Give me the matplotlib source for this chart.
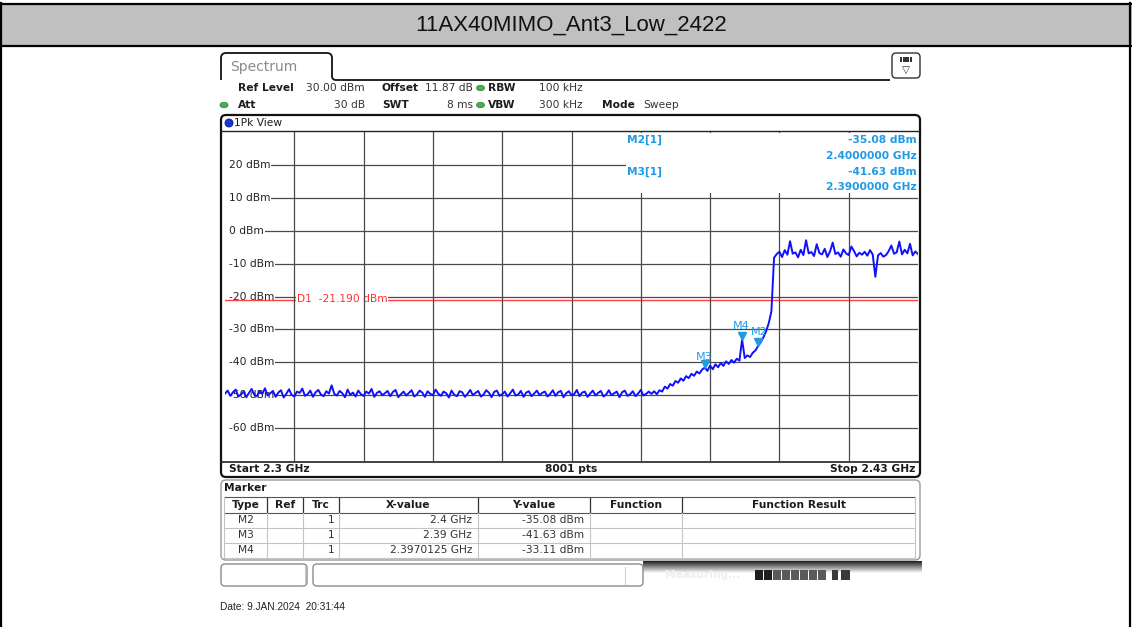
import numpy as np
import matplotlib
matplotlib.use("Agg")
import matplotlib.pyplot as plt
from matplotlib.patches import FancyBboxPatch, Rectangle, Ellipse, Circle, PathPatch
from matplotlib.path import Path
from matplotlib.transforms import blended_transform_factory, ScaledTranslation

# ---------------- data ----------------
title = "11AX40MIMO_Ant3_Low_2422"
f_start_ghz, f_stop_ghz = 2.300, 2.430
y_top_dbm, y_bottom_dbm = 30, -70

# trace level (dBm) read every 0.5 MHz from 2300 to 2430 MHz
trace_dbm = [
    -49.5, -48.6, -50.2, -49.1, -48.3, -50.4, -49.8, -48.9, -50.6, -49.3,
    -48.1, -49.9, -50.3, -48.8, -49.6, -47.9, -50.1, -49.4, -48.7, -50.5,
    -49.2, -48.5, -50.7, -49.6, -48.2, -49.9, -50.4, -48.9, -49.3, -48.0,
    -50.2, -49.7, -48.6, -50.5, -49.1, -48.4, -49.8, -50.3, -48.8, -49.5,
    -47.0, -49.6, -50.1, -48.7, -49.4, -50.6, -48.3, -49.9, -49.2, -50.4,
    -48.6, -49.7, -50.2, -48.9, -49.5, -48.1, -50.5, -49.3, -48.8, -50.0,
    -49.4, -48.7, -50.3, -49.0, -48.4, -50.6, -49.7, -48.9, -50.1, -49.3,
    -48.5, -50.4, -49.8, -48.6, -49.2, -50.5, -48.8, -49.6, -50.0, -48.3,
    -49.5, -50.2, -48.9, -49.4, -50.7, -48.6, -49.9, -50.3, -48.8, -49.1,
    -50.5, -49.6, -48.4, -50.0, -49.3, -48.7, -50.4, -49.8, -48.5, -49.2,
    -50.6, -49.0, -48.6, -50.2, -49.7, -48.9, -50.4, -49.4, -48.3, -50.1,
    -49.8, -48.7, -50.5, -49.2, -48.8, -50.3, -49.5, -48.6, -50.0, -49.3,
    -48.9, -50.4, -49.6, -48.5, -50.2, -49.1, -48.7, -50.6, -49.4, -48.8,
    -50.0, -49.7, -48.4, -50.3, -49.2, -48.9, -50.5, -49.5, -48.6, -50.1,
    -49.3, -48.7, -50.4, -49.8, -48.5, -50.0, -49.4, -48.9, -50.6, -49.1,
    -48.6, -50.2, -49.7, -48.8, -50.3, -49.5, -48.4, -50.1, -49.6, -48.9,
    -49.6, -48.8, -49.7, -48.5, -48.9, -47.4, -48.0, -46.6, -47.1, -45.7,
    -46.2, -44.9, -45.6, -44.2, -44.8, -43.5, -44.1, -42.8, -43.4, -42.2,
    -41.63, -42.6, -41.0, -42.1, -40.6, -41.5, -40.2, -41.1, -39.7, -40.5,
    -39.3, -40.1, -38.9, -39.5, -33.11, -38.7, -37.9, -38.4, -37.1, -36.4,
    -35.08, -33.9, -32.4, -30.6, -28.1, -24.5, -8.2, -7.1, -6.4, -8.0,
    -5.9, -7.3, -3.2, -7.0, -6.6, -8.1, -5.8, -7.4, -2.9, -6.9,
    -6.5, -7.7, -4.1, -6.8, -7.2, -5.5, -8.0, -6.3, -3.6, -7.1,
    -6.6, -7.9, -5.7, -6.9, -7.4, -4.8, -6.2, -7.8, -6.7, -7.3,
    -6.4, -7.6, -5.9, -7.2, -14.0, -7.5, -6.8, -7.9, -7.4, -6.2,
    -4.5, -7.0, -6.6, -3.3, -7.2, -5.8, -6.9, -4.0, -7.5, -6.3, -7.1,
]
y_ticks = [20, 10, 0, -10, -20, -30, -40, -50, -60]
y_tick_labels = ["20 dBm", "10 dBm", "0 dBm", "-10 dBm", "-20 dBm",
                 "-30 dBm", "-40 dBm", "-50 dBm", "-60 dBm"]
n_xdiv = 10
display_line_dbm = -21.19
display_line_label = "D1  -21.190 dBm"

marker_names = ["M2", "M3", "M4"]
marker_freq_ghz = [2.4, 2.39, 2.3970125]
marker_level_dbm = [-35.08, -41.63, -33.11]
marker_x_text = ["2.4 GHz", "2.39 GHz", "2.3970125 GHz"]
marker_y_text = ["-35.08 dBm", "-41.63 dBm", "-33.11 dBm"]
info_lines = [("M2[1]", "-35.08 dBm", "2.4000000 GHz"),
              ("M3[1]", "-41.63 dBm", "2.3900000 GHz")]
table_headers = ["Type", "Ref", "Trc", "X-value", "Y-value", "Function", "Function Result"]
date_text = "Date: 9.JAN.2024  20:31:44"

# ---------------- figure ----------------
W, H = 1132, 627
fig = plt.figure(figsize=(W / 100, H / 100), dpi=100, facecolor="white")
bg = fig.add_axes([0, 0, 1, 1], zorder=0)
bg.set_xlim(0, W)
bg.set_ylim(H, 0)
bg.axis("off")

FONT = "DejaVu Sans"
DARK = "#1c1c1c"
MBLUE = "#1e9be6"


def T(x, y, s, size=7.7, weight="normal", color=DARK, ha="left", va="center",
      family=FONT, ax=None, **kw):
    a = bg if ax is None else ax
    return a.text(x, y, s, fontsize=size, fontweight=weight, color=color, ha=ha,
                  va=va, family=family, **kw)


# ---- outer table frame & title band ----
bg.add_patch(Rectangle((0, 3), W, 43, facecolor="#c0c0c0", edgecolor="none"))
bg.plot([0, W], [3.5, 3.5], color="black", lw=1.6)
bg.plot([0, W], [46, 46], color="black", lw=1.6)
bg.plot([1.2, 1.2], [3, H], color="black", lw=1.6)
bg.plot([1130, 1130], [3, H], color="black", lw=1.6)
T(571, 25, title, size=16, family="Liberation Sans", color="#111111", ha="center")

# ---- spectrum tab ----
M, L, C3 = Path.MOVETO, Path.LINETO, Path.CURVE3
tab_verts = [(221, 80), (221, 58), (221, 53), (226, 53), (327, 53), (332, 53),
             (332, 58), (332, 76), (332, 80), (336, 80), (890, 80)]
tab_codes = [M, L, C3, C3, L, C3, C3, L, C3, C3, L]
bg.add_patch(PathPatch(Path(tab_verts, tab_codes), fc="none", ec="#111111", lw=1.3))
T(230, 67, "Spectrum", size=10, color="#8a8a8a")
bg.add_patch(FancyBboxPatch((892, 53), 28, 25, boxstyle="round,pad=0,rounding_size=4",
                            fc="white", ec="#333333", lw=1.0))
for i in range(4):
    bg.add_patch(Rectangle((900 + i * 3.2, 57), 2.4, 4.5, fc="#333333", ec="none"))
T(906, 70, "\u25BD", size=7.5, color="#333333", ha="center")

# ---- header settings ----
hdr = [
    (238, 88, "Ref Level", "bold", "left"), (365, 88, "30.00 dBm", "normal", "right"),
    (382, 88, "Offset", "bold", "left"), (473, 88, "11.87 dB", "normal", "right"),
    (488, 88, "RBW", "bold", "left"), (539, 88, "100 kHz", "normal", "left"),
    (238, 105, "Att", "bold", "left"), (365, 105, "30 dB", "normal", "right"),
    (382, 105, "SWT", "bold", "left"), (473, 105, "8 ms", "normal", "right"),
    (488, 105, "VBW", "bold", "left"), (539, 105, "300 kHz", "normal", "left"),
    (602, 105, "Mode", "bold", "left"), (643, 105, "Sweep", "normal", "left"),
]
for x, y, s, w, ha in hdr:
    T(x, y, s, weight=w, ha=ha, color=DARK if w == "bold" else "#333333")
for cx, cy in [(480.5, 88), (224, 105), (480.5, 105)]:
    bg.add_patch(Ellipse((cx, cy), 8, 5.5, fc="#45b04c", ec="#2d7a33", lw=0.5))

# ---- diagram panel ----
bg.add_patch(FancyBboxPatch((221, 115), 699, 362, boxstyle="round,pad=0,rounding_size=5",
                            fc="white", ec="#111111", lw=1.6))
bg.plot([221, 920], [131, 131], color="#222222", lw=1.0)
bg.plot([221, 920], [461.5, 461.5], color="#222222", lw=1.2)
bg.add_patch(Circle((229, 123), 4, fc="#1438d8", ec="#0a1a80", lw=0.6))
T(234, 123, "1Pk View")
T(229, 469, "Start 2.3 GHz", weight="bold")
T(571, 469, "8001 pts", weight="bold", ha="center")
T(915, 469, "Stop 2.43 GHz", weight="bold", ha="right")

# ---- spectrum axes ----
PL, PR, PT, PB = 225, 918, 132, 461
ax = fig.add_axes([PL / W, 1 - PB / H, (PR - PL) / W, (PB - PT) / H], zorder=1)
ax.set_xlim(f_start_ghz, f_stop_ghz)
ax.set_ylim(y_bottom_dbm, y_top_dbm)
ax.axis("off")
ytr = blended_transform_factory(bg.transData, ax.transData)

GRID = "#4a4a4a"
for v in y_ticks:
    ax.axhline(v, color=GRID, lw=0.9, zorder=1)
# blank strip left of the level labels
ax.add_patch(Rectangle((224, 133), 5.5, 327, transform=bg.transData, fc="white",
                       ec="none", zorder=1.8))
for v, lab in zip(y_ticks, y_tick_labels):
    ax.text(229, v, lab, transform=ytr, fontsize=7.7, family=FONT, color="#222222",
            va="center", ha="left", zorder=2, bbox=dict(fc="white", ec="none", pad=0.6))

ax.axhline(display_line_dbm, color="#ff4040", lw=1.0, zorder=2.2)
ax.text(297, display_line_dbm + 0.4, display_line_label, transform=ytr, fontsize=7.7,
        family=FONT, color="#ff3030", va="center", ha="left", zorder=2.4,
        bbox=dict(fc="white", ec="none", pad=0.6))

xdiv = np.linspace(f_start_ghz, f_stop_ghz, n_xdiv + 1)[1:-1]
for xv in xdiv:
    ax.axvline(xv, color=GRID, lw=0.9, zorder=2.5)

freq = np.linspace(f_start_ghz, f_stop_ghz, len(trace_dbm))
ax.plot(freq, trace_dbm, color="#1010ff", lw=1.4, zorder=4)

label_off = {"M2": (1, 14), "M3": (-1, 11), "M4": (-1, 14)}
shift = ax.transData + ScaledTranslation(0, 4 / 100, fig.dpi_scale_trans)
for name, fx, lv in zip(marker_names, marker_freq_ghz, marker_level_dbm):
    ax.plot([fx], [lv], marker="v", ms=6, color=MBLUE, zorder=5, transform=shift)
    dx, dy = label_off[name]
    ax.annotate(name, (fx, lv), xytext=(dx, dy), textcoords="offset pixels",
                fontsize=8, family=FONT, color=MBLUE, ha="center", va="center", zorder=5)

# marker info block (top right)
ax.add_patch(Rectangle((626, 132.5), 292, 60, transform=bg.transData, fc="white",
                       ec="none", zorder=6))
ys = [(140, 156), (172, 187)]
for (nm, lvl, fr), (y1, y2) in zip(info_lines, ys):
    T(627, y1, nm, weight="bold", color=MBLUE, ax=ax, transform=bg.transData, zorder=7)
    T(917, y1, lvl, weight="bold", color=MBLUE, ha="right", ax=ax, transform=bg.transData, zorder=7)
    T(917, y2, fr, weight="bold", color=MBLUE, ha="right", ax=ax, transform=bg.transData, zorder=7)

# ---- marker table panel ----
bg.add_patch(FancyBboxPatch((221, 480), 699, 80, boxstyle="round,pad=0,rounding_size=5",
                            fc="white", ec="#9a9a9a", lw=1.0))
T(224, 488, "Marker", weight="bold")
cols = [224, 267, 303, 339, 478, 590, 682, 915]
bg.plot([224, 915], [497, 497], color="#555555", lw=0.8)
bg.plot([224, 915], [512.5, 512.5], color="#555555", lw=0.8)
for cx in cols[1:-1]:
    bg.plot([cx, cx], [498, 512], color="#333333", lw=0.9)
    bg.plot([cx, cx], [513, 557], color="#c4c4c4", lw=0.8)
for cx in [cols[0], cols[-1]]:
    bg.plot([cx, cx], [497, 557], color="#c4c4c4", lw=0.8)
for i, hname in enumerate(table_headers):
    T((cols[i] + cols[i + 1]) / 2, 505, hname, weight="bold", ha="center")
row_y = [520, 535, 550]
for ry in row_y:
    bg.plot([224, 915], [ry + 7.5, ry + 7.5], color="#c4c4c4", lw=0.8)
for ry, nm, xt, yt in zip(row_y, marker_names, marker_x_text, marker_y_text):
    T((cols[0] + cols[1]) / 2, ry, nm, color="#333333", ha="center")
    T(335, ry, "1", color="#333333", ha="right")
    T(472, ry, xt, color="#333333", ha="right")
    T(584, ry, yt, color="#333333", ha="right")

# ---- status bar ----
grad = np.vstack([np.linspace(0.15, 1.0, 12)[:, None], np.ones((14, 1))])
bg.imshow(grad, extent=(643, 922, 588, 561), cmap="gray", vmin=0, vmax=1,
          aspect="auto", interpolation="bilinear", zorder=1)
bg.add_patch(FancyBboxPatch((221, 564), 86, 22, boxstyle="round,pad=0,rounding_size=4",
                            fc="white", ec="#8a8a8a", lw=1.0, zorder=2))
bg.add_patch(FancyBboxPatch((313, 564), 330, 22, boxstyle="round,pad=0,rounding_size=4",
                            fc="white", ec="#8a8a8a", lw=1.0, zorder=2))
bg.plot([305, 305], [567, 584], color="#cccccc", lw=0.8, zorder=3)
bg.plot([625, 625], [567, 584], color="#cccccc", lw=0.8, zorder=3)
T(665, 575, "Measuring...", weight="bold", color="#eeeeee", zorder=3)
for i in range(8):
    bg.add_patch(Rectangle((755 + i * 9, 570), 7.6, 10,
                           fc="#1e1e1e" if i < 2 else "#5a5a5a", ec="none", zorder=3))
bg.add_patch(Rectangle((832, 570), 6, 10, fc="#3a3a3a", ec="none", zorder=3))
bg.add_patch(Rectangle((841, 570), 9, 10, fc="#3a3a3a", ec="none", zorder=3))

# ---- date ----
T(220, 607, date_text, size=7.3, family="Liberation Sans", color="#222222")

bg.set_xlim(0, W)
bg.set_ylim(H, 0)
fig.savefig("out.png", dpi=100, facecolor="white")
